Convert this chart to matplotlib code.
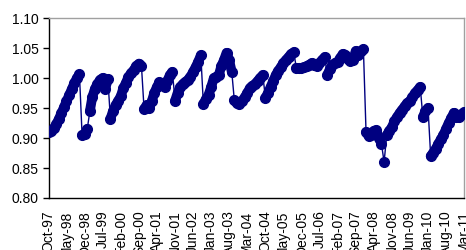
import matplotlib
matplotlib.use("Agg")
import matplotlib.pyplot as plt
import pandas as pd

# Monthly series, Oct-97 .. Mar-11
vals_97_99 = [0.910, 0.912, 0.916, 0.923, 0.932, 0.941, 0.951, 0.961, 0.971, 0.981,
              0.991, 1.000, 1.006, 0.905, 0.906, 0.915, 0.945, 0.968, 0.982, 0.990,
              0.997, 1.000, 0.982, 0.998]
vals_99_01 = [0.932, 0.945, 0.955, 0.962, 0.970, 0.983, 0.992, 1.002, 1.008, 1.013,
              1.020, 1.024, 1.020, 0.948, 0.955, 0.950, 0.962, 0.975, 0.985, 0.993,
              0.990, 0.985, 0.995, 1.005]
vals_01_03 = [1.010, 0.962, 0.975, 0.985, 0.990, 0.993, 0.997, 1.002, 1.010, 1.018,
              1.027, 1.038, 0.957, 0.965, 0.972, 0.985, 1.000, 1.002, 1.005, 1.020,
              1.030, 1.042, 1.030, 1.010]
vals_03_05 = [0.963, 0.958, 0.957, 0.962, 0.968, 0.975, 0.983, 0.987, 0.990, 0.995,
              1.000, 1.005, 0.967, 0.975, 0.985, 0.995, 1.005, 1.012, 1.018, 1.025,
              1.030, 1.035, 1.040, 1.043]
vals_05_07 = [1.017, 1.016, 1.017, 1.018, 1.020, 1.022, 1.025, 1.022, 1.020, 1.025,
              1.030, 1.035, 1.005, 1.015, 1.022, 1.025, 1.027, 1.033, 1.040, 1.038,
              1.032, 1.028, 1.030, 1.045]
vals_07_09 = [1.038, 1.045, 1.048, 0.910, 0.903, 0.905, 0.912, 0.913, 0.900, 0.890,
              0.860, 0.905, 0.912, 0.918, 0.928, 0.935, 0.942, 0.947, 0.953, 0.958,
              0.962, 0.968, 0.975, 0.980]
vals_09_11 = [0.985, 0.935, 0.945, 0.950, 0.870, 0.875, 0.882, 0.890, 0.898, 0.905,
              0.915, 0.925, 0.933, 0.942, 0.935, 0.935, 0.940, 0.943]

values = vals_97_99 + vals_99_01 + vals_01_03 + vals_03_05 + vals_05_07 + vals_07_09 + vals_09_11
dates = pd.date_range("1997-10-01", periods=len(values), freq="MS")

tick_labels = ["Oct-97", "May-98", "Dec-98", "Jul-99", "Feb-00", "Sep-00", "Apr-01",
               "Nov-01", "Jun-02", "Jan-03", "Aug-03", "Mar-04", "Oct-04", "May-05",
               "Dec-05", "Jul-06", "Feb-07", "Sep-07", "Apr-08", "Nov-08", "Jun-09",
               "Jan-10", "Aug-10", "Mar-11"]
y_ticks = [0.80, 0.85, 0.90, 0.95, 1.00, 1.05, 1.10]

plt.rcParams["font.family"] = ["Liberation Sans", "DejaVu Sans"]
plt.rcParams["font.size"] = 10

fig = plt.figure(figsize=(4.66, 2.5), dpi=100)
ax = fig.add_axes([48.5 / 466, 1 - 198 / 250, 415.5 / 466, 180 / 250])

navy = "#000080"
band = 7
jump_threshold = 0.025

# split into continuous runs (thick band) and jumps (thin connector)
runs = []
start = 0
for i in range(1, len(values)):
    if abs(values[i] - values[i - 1]) > jump_threshold:
        runs.append((start, i))
        ax.plot(dates[i - 1:i + 1], values[i - 1:i + 1], color=navy, linewidth=1.0,
                zorder=2)
        start = i
runs.append((start, len(values)))
for a, b in runs:
    ax.plot(dates[a:b], values[a:b], color=navy, linewidth=band,
            solid_capstyle="round", solid_joinstyle="round", zorder=3)

ax.plot(dates, values, linestyle="none", marker="o", markersize=band,
        markeredgecolor=navy, markerfacecolor=navy, zorder=4)

ax.set_ylim(0.80, 1.10)
ax.set_yticks(y_ticks)
ax.set_yticklabels([f"{v:.2f}" for v in y_ticks])
ax.set_xlim(dates[0], dates[-1])
ax.set_xticks(dates[::7])
ax.set_xticklabels(tick_labels, rotation=90, ha="center", va="top")

ax.tick_params(axis="y", direction="out", length=4, width=1, pad=3, colors="black")
ax.tick_params(axis="x", length=0, pad=9)

for s in ["left", "bottom"]:
    ax.spines[s].set_color("black")
    ax.spines[s].set_linewidth(1.0)
for s in ["top", "right"]:
    ax.spines[s].set_color("#a0a0a0")
    ax.spines[s].set_linewidth(1.0)

fig.savefig("out.png", dpi=100)
